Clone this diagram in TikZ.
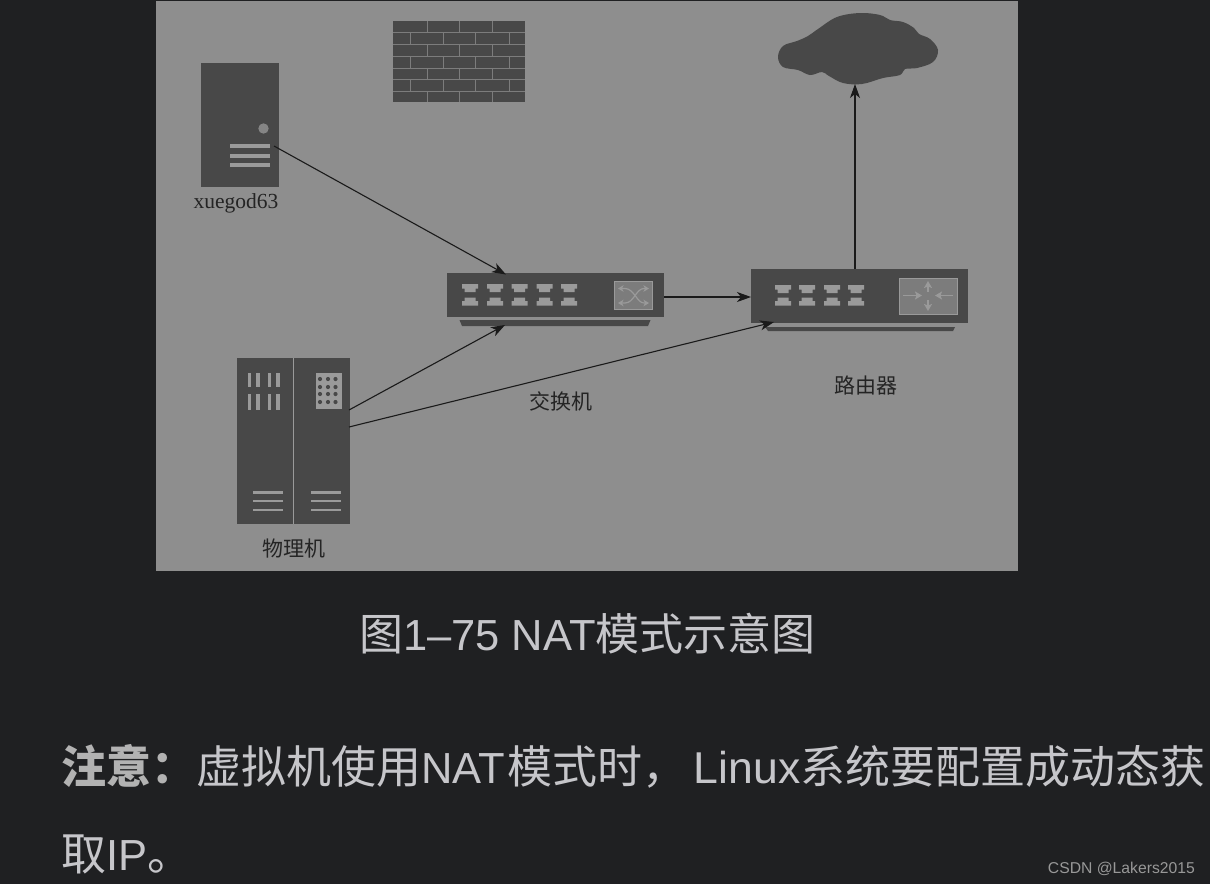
\documentclass[tikz,border=0pt]{standalone}
\usepackage{fontspec}
\setmainfont{Liberation Serif}
\newfontfamily\cjkserif{Noto Sans CJK SC}
\newfontfamily\uisans{Noto Sans CJK SC}
\newfontfamily\wm{Liberation Sans}
\newcommand{\latn}[1]{{\wm\fontsize{43.5}{44}\selectfont #1}}
\newcommand{\latnb}[1]{{\wm\fontsize{44.6}{45}\selectfont #1}}
\usetikzlibrary{arrows.meta}
\definecolor{pagebg}{HTML}{1F2022}
\definecolor{panel}{HTML}{8E8E8E}
\definecolor{dev}{HTML}{484848}
\definecolor{devline}{HTML}{9A9A9A}
\definecolor{mortarc}{HTML}{7C7C7C}
\definecolor{ink}{HTML}{1A1A1A}
\definecolor{labelink}{HTML}{242424}
\definecolor{uitext}{HTML}{C6C6CA}
\definecolor{boldtext}{HTML}{B2B2B2}
\definecolor{iconbox}{HTML}{7C7C7C}
\definecolor{wmc}{HTML}{989898}
\tikzset{
  x=1pt,y=-1pt,
  link/.style={draw=ink,line width=1.1pt,-{Stealth[length=14pt,width=10pt,inset=4pt]}},
  mortar/.style={draw=mortarc,line width=1pt},
  lab/.style={text=labelink,inner sep=0pt,anchor=center},
  ui/.style={text=uitext,inner sep=0pt,anchor=base west},
  iconarrow/.style={draw=devline,line width=1.5pt,-{Stealth[length=7pt,width=8pt,inset=1.5pt]}},
  swarrow/.style={draw=devline,line width=1.2pt,{Stealth[length=5.5pt,width=6.5pt,inset=1.5pt]}-{Stealth[length=5.5pt,width=6.5pt,inset=1.5pt]}},
  portup/.pic={\fill[devline] (-8,-4)--(8,-4)--(8,.5)--(5.5,.5)--(5.5,4)--(-5.5,4)--(-5.5,.5)--(-8,.5)--cycle;},
  portdn/.pic={\fill[devline] (-5.5,-4)--(5.5,-4)--(5.5,-.5)--(8,-.5)--(8,4)--(-8,4)--(-8,-.5)--(-5.5,-.5)--cycle;}
}
\begin{document}
\begin{tikzpicture}
\useasboundingbox (0,0) rectangle (1210,884);
\fill[pagebg] (0,0) rectangle (1210,884);
\fill[panel] (156,1) rectangle (1018,571);
% firewall
\fill[dev] (393,21) rectangle (525,102);
\foreach \y in {32.5,44,56,68,79.5,91} \draw[mortar] (393,\y)--(525,\y);
\foreach \t/\b in {21/32.5,44/56,68/79.5,91/102} \foreach \x in {427,459,492} \draw[mortar] (\x,\t)--(\x,\b);
\foreach \t/\b in {32.5/44,56/68,79.5/91} \foreach \x in {410,443,475,509} \draw[mortar] (\x,\t)--(\x,\b);
% server
\fill[dev] (200.5,62.5) rectangle (279,187);
\coordinate (srv) at (274,146);
\fill[iconbox!70!devline] (263.5,128.5) circle (5.2);
\foreach \y/\h in {146/2,155.5/2,165/1.6} \fill[devline] (229.5,\y-\h) rectangle (269.5,\y+\h);
\node[lab,font=\fontsize{21.5}{22}\selectfont] (srvlabel) at (236,203.5) {xuegod63};
% cloud
\fill[dev] plot[smooth cycle,tension=.6] coordinates {(778,57) (783,46) (797,41) (808,36) (818,29) (837,17) (860,13) (880,15) (890,20) (903,22) (914,28) (919,34) (930,39) (938,50) (933,62) (917,68) (905,69) (900,75) (883,78) (862,84) (843,83) (829,76) (822,72) (810,75) (798,70) (783,67)};
\coordinate (cloudbase) at (855,84);
% switch
\fill[dev] (446.5,273) rectangle (664,317);
\fill[dev] (459.5,320) -- (650.5,320) -- (648,326) -- (462,326) -- cycle;
\foreach \x in {470,495,519.5,544.5,569} {
  \pic at (\x,288) {portup};
  \pic at (\x,301.5) {portdn};
}
\fill[iconbox,draw=devline,line width=.7pt] (614,281) rectangle (652.5,309);
\draw[swarrow] (618,288.5) -- (625,288.5) .. controls (634,288.5) and (637,303) .. (644,303) -- (649,303);
\draw[swarrow] (649,288.5) -- (644,288.5) .. controls (636,288.5) and (634,303) .. (625,303) -- (618,303);
\coordinate (swtop) at (506,274.5);
\coordinate (swbot) at (505,325);
\coordinate (swright) at (664,297);
% router
\fill[dev] (751,268.5) rectangle (968,323);
\fill[dev] (765,327) -- (955,327) -- (953,331) -- (768,331) -- cycle;
\foreach \x in {783,807,832,856} {
  \pic at (\x,289) {portup};
  \pic at (\x,301.5) {portdn};
}
\fill[iconbox,draw=devline,line width=.7pt] (899.5,278) rectangle (957,314);
\draw[iconarrow] (903,295.5)--(922,295.5);
\draw[iconarrow] (953,295.5)--(935,295.5);
\draw[iconarrow] (928,292)--(928,281);
\draw[iconarrow] (928,300)--(928,311);
\coordinate (rtleft) at (751,297);
\coordinate (rttop) at (855,269);
\coordinate (rtbot) at (774,322);
% physical machine
\fill[dev] (237,358) rectangle (349.5,523.5);
\fill[devline] (292.5,358) rectangle (293.8,523.5);
\foreach \a/\b in {248/250.8,256/259.8,268/271,276/280} \foreach \t/\u in {373/387,394/410}
  \fill[devline] (\a,\t) rectangle (\b,\u);
\fill[devline] (316,373) rectangle (342,409);
\foreach \x in {320,328,335.5} \foreach \y in {379,387,394,402}
  \fill[dev] (\x,\y) circle (2.1);
\foreach \y in {492.3,501,510} {
  \fill[devline] (252.5,\y-1.4) rectangle (282.5,\y+1.4);
  \fill[devline] (311,\y-1.4) rectangle (341,\y+1.4);
}
\coordinate (pm1) at (349,410);
\coordinate (pm2) at (349,427);
% labels
\node[lab,font=\cjkserif\fontsize{21}{21}\selectfont] (swlabel) at (561,401) {交换机};
\node[lab,font=\cjkserif\fontsize{21}{21}\selectfont] (rtlabel) at (866,385.5) {路由器};
\node[lab,font=\cjkserif\fontsize{21}{21}\selectfont] (pmlabel) at (294,549) {物理机};
% connectors
\draw[link] (srv) -- (swtop);
\draw[link] (pm1) -- (swbot);
\draw[link] (pm2) -- (rtbot);
\draw[link] (swright) -- (rtleft);
\draw[link] (rttop) -- (cloudbase);
% page text
\node[ui,font=\uisans\fontsize{44}{44}\selectfont] (cap) at (359,650) {图\latn{1–75 NAT}模式示意图};
\node[ui,font=\uisans\fontsize{45}{45}\selectfont] (note1) at (61,783) {{\color{boldtext}\bfseries 注意：}虚拟机使用\latn{NAT}\kern3pt 模式时，\kern6pt\latnb{Linux}系统要配置成动态获};
\node[ui,font=\uisans\fontsize{45}{45}\selectfont] (note2) at (61,870) {取\latn{IP}。};
\node[text=wmc,inner sep=0pt,anchor=base east,font=\wm\fontsize{15.7}{16}\selectfont] (mark) at (1195,873) {CSDN @Lakers2015};
\end{tikzpicture}
\end{document}
